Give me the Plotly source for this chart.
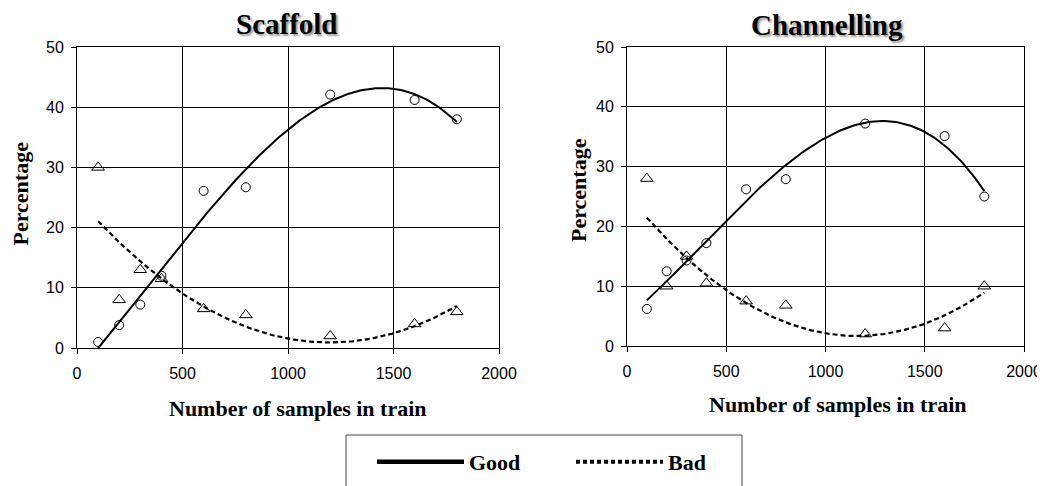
import numpy as np
import plotly.graph_objects as go

# ---- data ----
samples = [100, 200, 300, 400, 600, 800, 1200, 1600, 1800]
scaffold_good = [1.0, 3.8, 7.2, 12.0, 26.1, 26.7, 42.1, 41.2, 38.0]
scaffold_bad = [30.0, 8.0, 13.0, 11.5, 6.5, 5.5, 2.0, 4.0, 6.0]
channel_good = [6.2, 12.5, 14.3, 17.2, 26.2, 27.9, 37.2, 35.1, 25.0]
channel_bad = [28.0, 10.0, 15.0, 10.5, 7.5, 6.8, 2.0, 3.0, 10.0]
x_ticks = [0, 500, 1000, 1500, 2000]
y_ticks = [0, 10, 20, 30, 40, 50]
good_trend_order = 3   # polynomial trendline orders
bad_trend_order = 2

W, H = 1045, 486
OFF = 8  # page body margin offset
def px(x):
    return (x - OFF) / W
def py(y):
    return 1 - (y - OFF) / H

SERIF = "Liberation Serif"
SANS = "Liberation Sans"

fig = go.Figure()

xs_fit = np.linspace(min(samples), max(samples), 200)

def trend(vals, order):
    c = np.polyfit(samples, vals, order)
    return np.polyval(c, xs_fit)

panels = [
    ("x", "y", scaffold_good, scaffold_bad),
    ("x2", "y2", channel_good, channel_bad),
]
for xa, ya, good, bad in panels:
    fig.add_trace(go.Scatter(x=samples, y=good, mode="markers", xaxis=xa, yaxis=ya,
                             marker=dict(symbol="circle-open", size=9, color="black",
                                         line=dict(width=1, color="black")),
                             showlegend=False))
    fig.add_trace(go.Scatter(x=samples, y=bad, mode="markers", xaxis=xa, yaxis=ya,
                             marker=dict(symbol="triangle-up-open", size=11, color="black",
                                         line=dict(width=1, color="black")),
                             showlegend=False))
    fig.add_trace(go.Scatter(x=xs_fit, y=trend(good, good_trend_order), mode="lines",
                             xaxis=xa, yaxis=ya,
                             line=dict(color="black", width=2), showlegend=False))
    fig.add_trace(go.Scatter(x=xs_fit, y=trend(bad, bad_trend_order), mode="lines",
                             xaxis=xa, yaxis=ya,
                             line=dict(color="black", width=2.2, dash="5px,3px"),
                             showlegend=False))

# legend entries
fig.add_trace(go.Scatter(x=[None], y=[None], mode="lines", name="Good",
                         line=dict(color="black", width=4.5)))
fig.add_trace(go.Scatter(x=[None], y=[None], mode="lines", name="Bad",
                         line=dict(color="black", width=4, dash="4px,3px")))

axis_common = dict(
    range=[0, 2000], tickvals=x_ticks, showgrid=True, gridcolor="black", gridwidth=1,
    showline=True, linecolor="black", linewidth=1, mirror=True, automargin=False,
    ticks="outside", ticklen=5, tickcolor="black", zeroline=False,
    tickfont=dict(family=SANS, size=16, color="black"), ticklabelstandoff=6,
)
yaxis_common = dict(
    range=[0, 50], tickvals=y_ticks, showgrid=True, gridcolor="black", gridwidth=1,
    showline=True, linecolor="black", linewidth=1, mirror=True, automargin=False,
    ticks="outside", ticklen=5, tickcolor="black", zeroline=False,
    tickfont=dict(family=SANS, size=16, color="black"), ticklabelstandoff=4,
)

fig.update_layout(
    width=W, height=H, margin=dict(l=0, r=0, t=0, b=0, pad=0, autoexpand=False),
    paper_bgcolor="white", plot_bgcolor="white",
    xaxis=dict(domain=[px(77), px(499)], anchor="y", **axis_common),
    yaxis=dict(domain=[py(348), py(47)], anchor="x", **yaxis_common),
    xaxis2=dict(domain=[px(627), px(1024)], anchor="y2", **axis_common),
    yaxis2=dict(domain=[py(346), py(47)], anchor="x2", **yaxis_common),
    showlegend=True,
    legend=dict(orientation="h", x=px(372), y=py(462), xanchor="left", yanchor="middle",
                itemwidth=87, entrywidth=97, bgcolor="rgba(0,0,0,0)", borderwidth=0,
                font=dict(family=SERIF, size=22, color="black", weight="bold"),
                itemclick=False),
)

title_font = dict(family=SERIF, size=29, color="black", weight="bold",
                  shadow="2px 2px 2px #999")
label_font = dict(family=SERIF, size=22, color="black", weight="bold")
ann = [
    dict(text="Scaffold", x=px(286.5), y=py(24), font=title_font),
    dict(text="Channelling", x=px(826.5), y=py(24.5), font=title_font),
    dict(text="Percentage", x=px(20), y=py(193.5), textangle=-90, font=label_font),
    dict(text="Percentage", x=px(579), y=py(190), textangle=-90, font=label_font),
    dict(text="Number of samples in train", x=px(297.5), y=py(408), font=label_font),
    dict(text="Number of samples in train", x=px(837.5), y=py(404), font=label_font),
]
for a in ann:
    fig.add_annotation(xref="paper", yref="paper", showarrow=False,
                       xanchor="center", yanchor="middle", **a)

fig.add_shape(type="rect", xref="paper", yref="paper",
              x0=px(346), x1=px(742), y0=py(435), y1=py(520),
              line=dict(color="#444", width=1), fillcolor="rgba(0,0,0,0)")

fig.write_html("out.html")
